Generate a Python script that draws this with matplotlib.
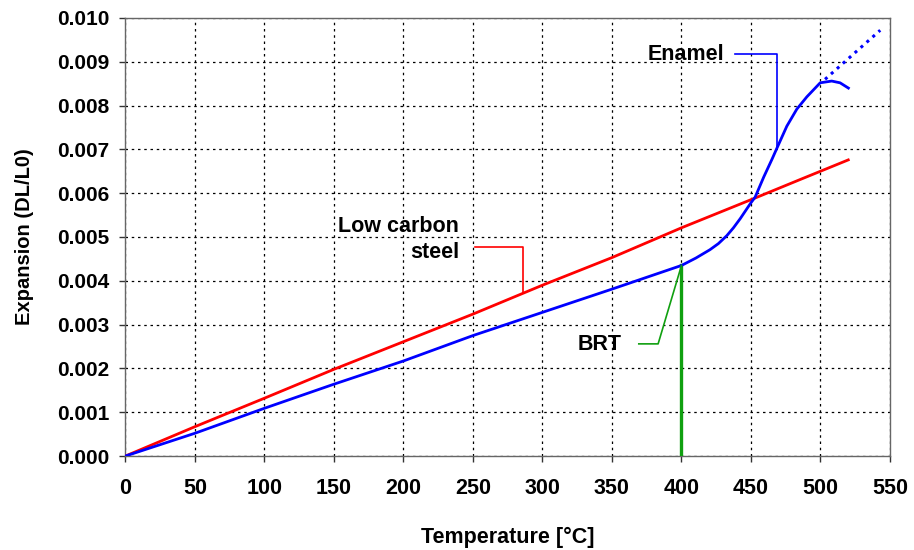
import matplotlib
matplotlib.use("Agg")
import matplotlib.pyplot as plt
from matplotlib.ticker import FormatStrFormatter

plt.rcParams['font.family'] = ['Liberation Sans', 'DejaVu Sans']

# Low carbon steel
steel_T = [0, 50, 100, 150, 200, 250, 300, 350, 400, 453, 486, 520]
steel_E = [0.0, 0.00067, 0.00132, 0.00198, 0.00261, 0.00324, 0.0039, 0.00453, 0.00521, 0.00589, 0.00632, 0.00676]

# Enamel
enamel_T = [0, 50, 100, 150, 200, 250, 300, 350, 400, 410.4, 420.5, 426.6, 432.6, 437.4, 442.3,
            445.9, 449.5, 453, 459.2, 465.2, 468.7, 475.8, 483, 490.2, 499.8, 508.1, 514.1, 520.1]
enamel_E = [0.0, 0.00052, 0.00109, 0.00164, 0.00217, 0.00275, 0.00328, 0.00381, 0.00435, 0.00452,
            0.00471, 0.00485, 0.00503, 0.00521, 0.00542, 0.00559, 0.00576, 0.00591, 0.00637,
            0.00678, 0.00703, 0.00753, 0.00792, 0.0082, 0.00852, 0.00856, 0.00852, 0.0084]

# Enamel extrapolation (dotted)
ext_T = [503.3, 543]
ext_E = [0.0086, 0.00972]

# BRT
brt_T = 400
brt_E = 0.00435

x_ticks = list(range(0, 551, 50))
y_ticks = [i / 1000 for i in range(0, 11)]

fig = plt.figure(figsize=(9.14, 5.5), dpi=100)
ax = fig.add_axes([0.1373, 0.1709, 0.9737 - 0.1373, 0.9673 - 0.1709])

ax.plot(steel_T, steel_E, color='#ff0000', lw=2.0, zorder=3)
ax.plot(enamel_T, enamel_E, color='#0000ff', lw=2.0, zorder=4)
ax.plot(ext_T, ext_E, color='#0000ff', lw=2.2, linestyle=(0, (1, 1.6)), zorder=4)
ax.plot([brt_T, brt_T], [0, brt_E], color='#10a010', lw=2.4, zorder=3)

# annotations
ax.text(430.6, 0.00917, 'Enamel', ha='right', va='center', fontsize=15.5, fontweight='bold')
ax.plot([438.3, 468.7, 468.7], [0.00917, 0.00917, 0.00703], color='#0000ff', lw=1.2, zorder=4)

ax.text(240.2, 0.00494, 'Low carbon\nsteel', ha='right', va='center', fontsize=15.5,
        fontweight='bold', multialignment='right', linespacing=1.3)
ax.plot([251.7, 286, 286], [0.00477, 0.00477, 0.00373], color='#ff0000', lw=1.2, zorder=4)

ax.text(357, 0.00255, 'BRT', ha='right', va='center', fontsize=15.5, fontweight='bold')
ax.plot([369.3, 383.2, brt_T], [0.00256, 0.00256, brt_E], color='#10a010', lw=1.2, zorder=4)

ax.set_xlim(0, 550)
ax.set_ylim(0, 0.010)
ax.set_xticks(x_ticks)
ax.set_yticks(y_ticks)
ax.yaxis.set_major_formatter(FormatStrFormatter('%.3f'))
ax.grid(True, color='black', linestyle=(0, (2, 3)), lw=0.9)
ax.set_axisbelow(True)
ax.tick_params(direction='out', length=4.5, width=1, colors='#333333', labelcolor='black')
ax.tick_params(axis='x', labelsize=15.5, pad=11)
ax.tick_params(axis='y', labelsize=15, pad=7)
for lab in ax.get_xticklabels() + ax.get_yticklabels():
    lab.set_fontweight('bold')
for s in ax.spines.values():
    s.set_color('#666666')
    s.set_linewidth(1.0)

ax.set_xlabel('Temperature [°C]', fontsize=15.5, fontweight='bold')
ax.set_ylabel('Expansion (DL/L0)', fontsize=14.5, fontweight='bold')
ax.xaxis.set_label_coords(0.5, -0.162)
ax.yaxis.set_label_coords(-0.12, 0.5)

fig.savefig('out.png', dpi=100)
